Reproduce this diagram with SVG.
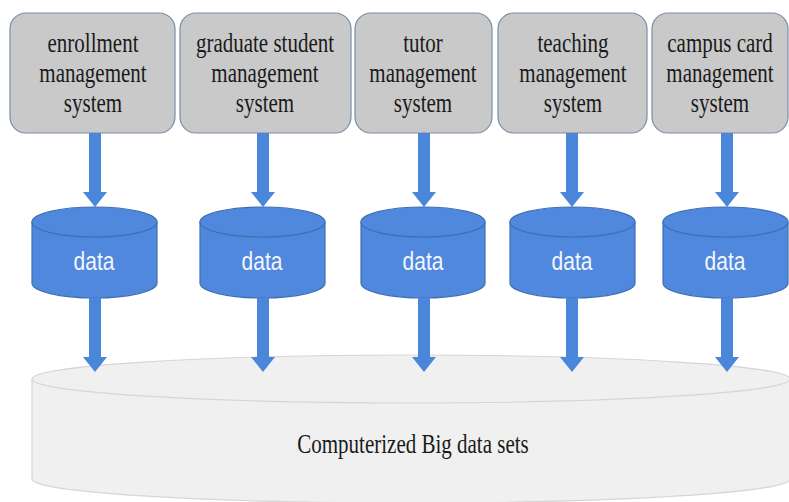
<svg xmlns="http://www.w3.org/2000/svg" width="789" height="502" viewBox="0 0 789 502">
<style>
.box{fill:#c9c9c9;stroke:#7b8ea8;stroke-width:1.2}
.lbl{font-family:"Liberation Serif","Times New Roman",serif;font-size:21px;fill:#1a1a1a;text-anchor:middle}
.cyl{fill:#4f88dc;stroke:#3e6fb5;stroke-width:1.2}
.dat{font-family:"Liberation Sans",Arial,sans-serif;font-size:21px;fill:#f2f6fc;text-anchor:middle}
.arr{fill:#4a87da}
.big{fill:#f0f0f0;stroke:#d6d6d6;stroke-width:1.2}
.bigl{font-family:"Liberation Serif","Times New Roman",serif;font-size:21px;fill:#1a1a1a;text-anchor:middle}
</style>
<defs>
<path id="arrow" d="M-6,0 H6 V59 H12 L0,74 L-12,59 H-6 Z"/>
</defs>
<rect width="789" height="502" fill="#ffffff"/>

<g id="big-data">
<path class="big" d="M32,379 V479 A379,24 0 0 0 790,479 V379 Z"/>
<ellipse class="big" cx="411" cy="379" rx="379" ry="24"/>
<g transform="translate(413,453) scale(1,1.28)"><text class="bigl" x="0" y="0">Computerized Big data sets</text></g>
</g>

<g id="box-enrollment">
<rect class="box" x="10" y="13" width="165" height="120" rx="16"/>
<g transform="translate(93,52) scale(1,1.28)"><text class="lbl" x="0" y="0">enrollment</text></g>
<g transform="translate(93,82) scale(1,1.28)"><text class="lbl" x="0" y="0">management</text></g>
<g transform="translate(93,112) scale(1,1.28)"><text class="lbl" x="0" y="0">system</text></g>
</g>
<g id="box-graduate">
<rect class="box" x="180" y="13" width="171" height="120" rx="16"/>
<g transform="translate(265,52) scale(1,1.28)"><text class="lbl" x="0" y="0">graduate student</text></g>
<g transform="translate(265,82) scale(1,1.28)"><text class="lbl" x="0" y="0">management</text></g>
<g transform="translate(265,112) scale(1,1.28)"><text class="lbl" x="0" y="0">system</text></g>
</g>
<g id="box-tutor">
<rect class="box" x="355" y="13" width="137" height="120" rx="16"/>
<g transform="translate(423,52) scale(1,1.28)"><text class="lbl" x="0" y="0">tutor</text></g>
<g transform="translate(423,82) scale(1,1.28)"><text class="lbl" x="0" y="0">management</text></g>
<g transform="translate(423,112) scale(1,1.28)"><text class="lbl" x="0" y="0">system</text></g>
</g>
<g id="box-teaching">
<rect class="box" x="498" y="13" width="149" height="120" rx="16"/>
<g transform="translate(573,52) scale(1,1.28)"><text class="lbl" x="0" y="0">teaching</text></g>
<g transform="translate(573,82) scale(1,1.28)"><text class="lbl" x="0" y="0">management</text></g>
<g transform="translate(573,112) scale(1,1.28)"><text class="lbl" x="0" y="0">system</text></g>
</g>
<g id="box-campus">
<rect class="box" x="652" y="13" width="136" height="120" rx="16"/>
<g transform="translate(720,52) scale(1,1.28)"><text class="lbl" x="0" y="0">campus card</text></g>
<g transform="translate(720,82) scale(1,1.28)"><text class="lbl" x="0" y="0">management</text></g>
<g transform="translate(720,112) scale(1,1.28)"><text class="lbl" x="0" y="0">system</text></g>
</g>

<g id="data-1">
<path class="cyl" d="M32,222 V283 A62.5,15 0 0 0 157,283 V222 Z"/>
<ellipse class="cyl" cx="94.5" cy="222" rx="62.5" ry="15"/>
<g transform="translate(94,270) scale(1,1.2)"><text class="dat" x="0" y="0">data</text></g>
</g>
<g id="data-2">
<path class="cyl" d="M200,222 V283 A62.5,15 0 0 0 325,283 V222 Z"/>
<ellipse class="cyl" cx="262.5" cy="222" rx="62.5" ry="15"/>
<g transform="translate(262,270) scale(1,1.2)"><text class="dat" x="0" y="0">data</text></g>
</g>
<g id="data-3">
<path class="cyl" d="M361,222 V283 A62,15 0 0 0 485,283 V222 Z"/>
<ellipse class="cyl" cx="423" cy="222" rx="62" ry="15"/>
<g transform="translate(423,270) scale(1,1.2)"><text class="dat" x="0" y="0">data</text></g>
</g>
<g id="data-4">
<path class="cyl" d="M510,222 V283 A62.5,15 0 0 0 635,283 V222 Z"/>
<ellipse class="cyl" cx="572.5" cy="222" rx="62.5" ry="15"/>
<g transform="translate(572,270) scale(1,1.2)"><text class="dat" x="0" y="0">data</text></g>
</g>
<g id="data-5">
<path class="cyl" d="M663,222 V283 A62.5,15 0 0 0 788,283 V222 Z"/>
<ellipse class="cyl" cx="725.5" cy="222" rx="62.5" ry="15"/>
<g transform="translate(725,270) scale(1,1.2)"><text class="dat" x="0" y="0">data</text></g>
</g>

<g id="connectors">
<use href="#arrow" class="arr" x="95" y="133"/>
<use href="#arrow" class="arr" x="263" y="133"/>
<use href="#arrow" class="arr" x="424" y="133"/>
<use href="#arrow" class="arr" x="572" y="133"/>
<use href="#arrow" class="arr" x="727" y="133"/>
<use href="#arrow" class="arr" x="95" y="298"/>
<use href="#arrow" class="arr" x="263" y="298"/>
<use href="#arrow" class="arr" x="424" y="298"/>
<use href="#arrow" class="arr" x="572" y="298"/>
<use href="#arrow" class="arr" x="727" y="298"/>
</g>
</svg>
